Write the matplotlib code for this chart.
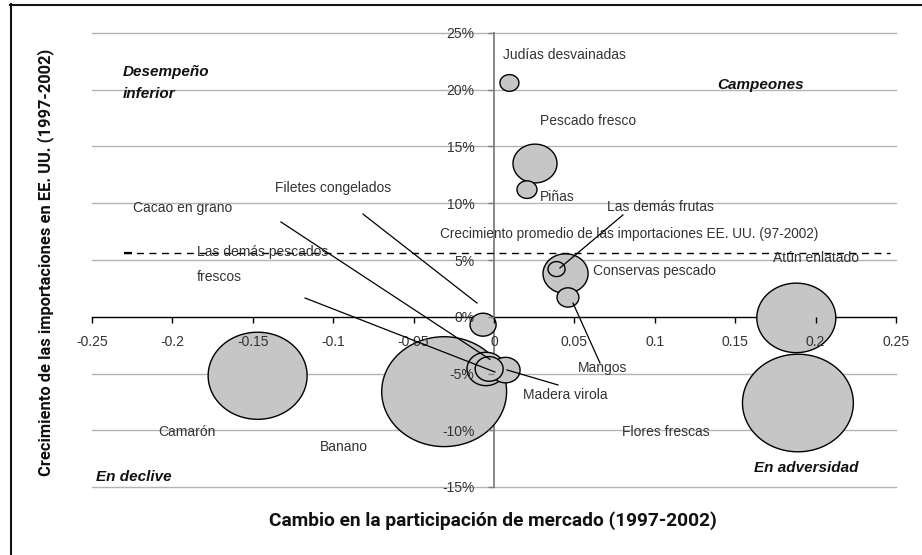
import matplotlib
matplotlib.use("Agg")
import matplotlib.pyplot as plt
import numpy as np
from matplotlib.path import Path
from matplotlib.lines import Line2D

plt.rcParams['font.family'] = ['Liberation Sans', 'DejaVu Sans']

# ---- data ----
productos = ["Banano", "Flores frescas", "Camarón", "Atún enlatado", "Conservas pescado",
             "Pescado fresco", "Cacao en grano", "Madera virola", "Las demás pescados frescos",
             "Filetes congelados", "Mangos", "Piñas", "Judías desvainadas", "Las demás frutas"]
cambio_participacion = [-0.031, 0.189, -0.147, 0.188, 0.0445, 0.0255, -0.005, 0.0072, -0.003,
                        -0.0068, 0.046, 0.0205, 0.0096, 0.0389]
crecimiento_import = [-6.6, -7.6, -5.2, -0.1, 3.8, 13.5, -4.6, -4.7, -4.6, -0.7, 1.7, 11.2, 20.6, 4.2]
tamano = [156, 123, 98, 62.4, 20.3, 19.4, 14.4, 8.4, 7.8, 6.8, 4.8, 4.0, 3.6, 2.9]

crecimiento_promedio = 5.6
promedio_x = [-0.23, 0.246]

x_ticks = [-0.25, -0.2, -0.15, -0.1, -0.05, 0, 0.05, 0.1, 0.15, 0.2, 0.25]
x_ticklabels = ["-0.25", "-0.2", "-0.15", "-0.1", "-0.05", "0", "0.05", "0.1", "0.15", "0.2", "0.25"]
y_ticks = [-15, -10, -5, 0, 5, 10, 15, 20, 25]
y_ticklabels = ["-15%", "-10%", "-5%", "0%", "5%", "10%", "15%", "20%", "25%"]

# label positions (x, y) and leader lines
etiquetas = {
    "Judías desvainadas": (0.0056, 23.06),
    "Pescado fresco": (0.0286, 17.25),
    "Piñas": (0.0286, 10.55),
    "Las demás frutas": (0.0703, 9.67),
    "Conservas pescado": (0.0616, 4.03),
    "Atún enlatado": (0.1735, 5.18),
    "Mangos": (0.0522, -4.52),
    "Madera virola": (0.018, -6.9),
    "Flores frescas": (0.0796, -10.16),
    "Camarón": (-0.209, -10.16),
    "Banano": (-0.108, -11.48),
    "Cacao en grano": (-0.2245, 9.58),
    "Filetes congelados": (-0.136, 11.34),
    "Las demás pescados\n\nfrescos": (-0.1847, 4.6),
}
lineas_guia = [
    ((0.0802, 8.97), (0.041, 4.3)),
    ((0.0491, 1.21), (0.0659, -4.07)),
    ((0.0398, -6.01), (0.0081, -4.69)),
    ((-0.0815, 9.05), (-0.0106, 1.21)),
    ((-0.1325, 8.35), (-0.0025, -3.76)),
    ((-0.1175, 1.65), (0.0006, -4.87)),
]

W, H = 922, 555
fig = plt.figure(figsize=(W / 100, H / 100), dpi=100)
ax = fig.add_axes([92 / W, (H - 487) / H, (896 - 92) / W, (487 - 33) / H])
ax.set_xlim(-0.25, 0.25)
ax.set_ylim(-15, 25)
ax.set_axisbelow(False)

# grid lines
for yv in y_ticks:
    if yv != 0:
        ax.axhline(yv, color='#b4b4b4', lw=1.0, zorder=0, clip_on=False)

# ellipse marker
t = np.linspace(0, 2 * np.pi, 100)
verts = np.column_stack([np.cos(t), 0.88 * np.sin(t)])
ell = Path(verts, closed=True)

s = np.array(tamano) * 51.84
ax.scatter(cambio_participacion, crecimiento_import, s=s, marker=ell, facecolor='#c6c6c6',
           edgecolor='black', linewidths=1.0, zorder=2)

# average line
ax.plot(promedio_x, [crecimiento_promedio] * 2, color='black', lw=1.0,
        dashes=(5, 4), zorder=4)
ax.plot([promedio_x[0], promedio_x[0] + 0.005], [crecimiento_promedio] * 2, color='black',
        lw=1.6, zorder=4, solid_capstyle='butt')
ax.text(-0.0336, 7.29, "Crecimiento promedio de las importaciones EE. UU. (97-2002)",
        fontsize=9.8, color='#333333', va='center', ha='left', zorder=5)

for (x0, y0), (x1, y1) in lineas_guia:
    ax.plot([x0, x1], [y0, y1], color='black', lw=0.9, zorder=5)

for txt, (lx, ly) in etiquetas.items():
    ax.text(lx, ly, txt, fontsize=10, color='#333333', va='center', ha='left', zorder=6,
            linespacing=0.9)

# spines
for sp in ['top', 'right']:
    ax.spines[sp].set_visible(False)
ax.spines['left'].set_position(('data', 0))
ax.spines['bottom'].set_position(('data', 0))
ax.spines['left'].set_color('#7f7f7f')
ax.spines['left'].set_linewidth(1.3)
ax.spines['bottom'].set_color('black')
ax.spines['bottom'].set_linewidth(1.0)
ax.spines['left'].set_zorder(1.5)
ax.spines['bottom'].set_zorder(1.5)

ax.set_xticks(x_ticks)
ax.set_xticklabels(x_ticklabels)
ax.set_yticks(y_ticks)
ax.set_yticklabels(y_ticklabels)
ax.tick_params(axis='x', direction='out', length=4.5, width=1.0, color='black',
               labelsize=10, labelcolor='#333333', pad=9)
ax.tick_params(axis='y', direction='out', length=4, width=1.0, color='#7f7f7f',
               labelsize=10, labelcolor='#333333', pad=10)

# quadrant labels
qkw = dict(fontsize=11, fontweight='bold', fontstyle='italic', color='#111111', va='center', ha='left')
ax.text((123 - 494) / 1608, (316.75 - 72) / 11.35, "Desempeño", **qkw)
ax.text((123 - 494) / 1608, (316.75 - 94) / 11.35, "inferior", **qkw)
ax.text((717 - 494) / 1608, (316.75 - 85) / 11.35, "Campeones", **qkw)
ax.text((96 - 494) / 1608, (316.75 - 477) / 11.35, "En declive", clip_on=False, **qkw)
ax.text((754 - 494) / 1608, (316.75 - 468) / 11.35, "En adversidad", clip_on=False, **qkw)

# axis titles
fig.text(493 / W, 1 - 521 / H, "Cambio en la participación de mercado (1997-2002)",
         fontsize=13.8, fontweight='bold', family=['Roboto', 'DejaVu Sans'],
         ha='center', va='center', color='#111111')
fig.text(46 / W, 1 - 262 / H, "Crecimiento de las importaciones en EE. UU. (1997-2002)",
         fontsize=11.9, fontweight='bold', family=['Roboto', 'DejaVu Sans'],
         ha='center', va='center', rotation=90, color='#111111')

# border
fig.add_artist(Line2D([10.5 / W, 10.5 / W], [0, 1 - 4 / H], color='#111111', lw=1.5,
                      transform=fig.transFigure))
fig.add_artist(Line2D([10 / W, 1], [1 - 4.5 / H, 1 - 4.5 / H], color='#111111', lw=1.5,
                      transform=fig.transFigure))

fig.savefig("out.png", dpi=100)
